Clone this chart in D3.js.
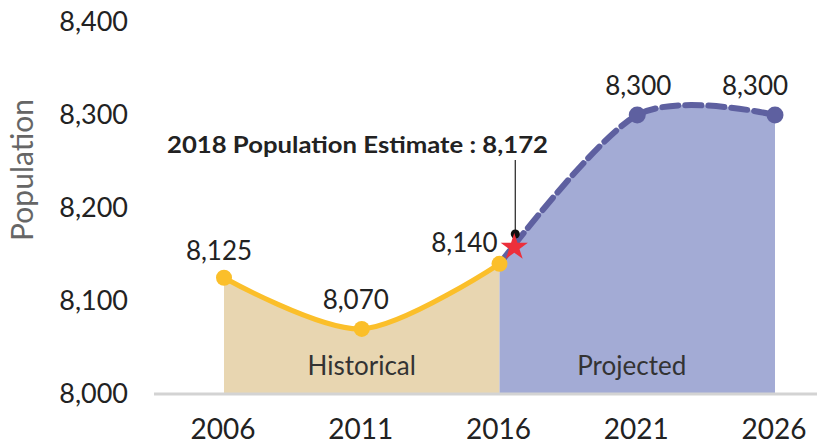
<!DOCTYPE html>
<html>
<head>
<meta charset="utf-8">
<script src="https://cdn.jsdelivr.net/npm/d3@7"></script>
<style>
  body { margin: 0; background: #fff; }
  svg { display: block; }
  text { font-family: Lato, "Noto Sans", sans-serif; }
</style>
</head>
<body>
<div id="chart"></div>
<script>
// Data
const years = [2006, 2011, 2016, 2021, 2026];
const historicalYears = [2006, 2011, 2016];
const historicalValues = [8125, 8070, 8140];
const projectedYears = [2016, 2021, 2026];
const projectedValues = [8140, 8300, 8300];
const projectedDots = [2021, 2026];
const yTicks = [8000, 8100, 8200, 8300, 8400];
const estimateLabel = '2018 Population Estimate : 8,172';
const estimateValue = 8172;
const starYear = 2016.5;   // where the star sits on the x axis
const starValue = 8160;

const width = 817, height = 444;

const svg = d3.select('#chart').append('svg')
    .attr('width', width)
    .attr('height', height);

const x = d3.scaleLinear().domain([2006, 2026]).range([224, 775]);
const y = d3.scaleLinear().domain([8000, 8400]).range([394, 22]);

const histData = historicalYears.map((yr, i) => ({ yr, v: historicalValues[i] }));
const projData = projectedYears.map((yr, i) => ({ yr, v: projectedValues[i] }));

const curve = d3.curveCardinal.tension(0.1);

const area = d3.area()
    .x(d => x(d.yr))
    .y0(y(8000))
    .y1(d => y(d.v))
    .curve(curve);

const line = d3.line()
    .x(d => x(d.yr))
    .y(d => y(d.v))
    .curve(curve);

// Filled areas
svg.append('path').datum(histData).attr('d', area).attr('fill', '#e8d6b1');
svg.append('path').datum(projData).attr('d', area).attr('fill', '#a3abd5');

// Baseline
svg.append('line')
    .attr('x1', 154).attr('x2', width)
    .attr('y1', y(8000)).attr('y2', y(8000))
    .attr('stroke', '#d3d3d3').attr('stroke-width', 3);

// Y axis labels
svg.append('g').selectAll('text')
    .data(yTicks).enter().append('text')
    .attr('x', 128)
    .attr('y', d => y(d))
    .attr('dy', '0.35em')
    .attr('text-anchor', 'end')
    .style('font-size', '27px')
    .attr('fill', '#222')
    .text(d3.format(','));

svg.append('text')
    .attr('transform', `translate(33,${170}) rotate(-90)`)
    .attr('text-anchor', 'middle')
    .style('font-size', '30px')
    .attr('fill', '#666')
    .text('Population');

// X axis labels
svg.append('g').selectAll('text')
    .data(years).enter().append('text')
    .attr('x', d => x(d) - 1)
    .attr('y', 439)
    .attr('text-anchor', 'middle')
    .style('font-size', '28px')
    .attr('fill', '#222')
    .text(d => d);

// Region labels
svg.append('text').attr('x', x(2011)).attr('y', 375)
    .attr('text-anchor', 'middle').style('font-size', '26px').attr('fill', '#333')
    .text('Historical');
svg.append('text').attr('x', x(2020.8)).attr('y', 375)
    .attr('text-anchor', 'middle').style('font-size', '26px').attr('fill', '#333')
    .text('Projected');

// Projected dashed line
svg.append('path').datum(projData)
    .attr('d', line)
    .attr('fill', 'none')
    .attr('stroke', '#5e60a0')
    .attr('stroke-width', 6)
    .attr('stroke-dasharray', '16 7')
    .attr('stroke-linecap', 'round');

svg.append('g').selectAll('circle')
    .data(projData.filter(d => projectedDots.includes(d.yr))).enter().append('circle')
    .attr('cx', d => x(d.yr)).attr('cy', d => y(d.v)).attr('r', 8.5)
    .attr('fill', '#5e60a0');

// Historical line
svg.append('path').datum(histData)
    .attr('d', line)
    .attr('fill', 'none')
    .attr('stroke', '#fbbf2a')
    .attr('stroke-width', 5);

svg.append('g').selectAll('circle')
    .data(histData).enter().append('circle')
    .attr('cx', d => x(d.yr)).attr('cy', d => y(d.v)).attr('r', 8)
    .attr('fill', '#fbbf2a');

// Value labels
const fmt = d3.format(',');
const valueLabels = [
    { yr: 2006, v: 8125, dx: -5, dy: -18, anchor: 'middle' },
    { yr: 2011, v: 8070, dx: -6, dy: -20, anchor: 'middle' },
    { yr: 2016, v: 8140, dx: -2, dy: -12, anchor: 'end' },
    { yr: 2021, v: 8300, dx: 1, dy: -20, anchor: 'middle' },
    { yr: 2026, v: 8300, dx: -20, dy: -20, anchor: 'middle' }
];
svg.append('g').selectAll('text')
    .data(valueLabels).enter().append('text')
    .attr('x', d => x(d.yr) + d.dx)
    .attr('y', d => y(d.v) + d.dy)
    .attr('text-anchor', d => d.anchor)
    .style('font-size', '26px')
    .attr('fill', '#222')
    .text(d => fmt(d.v));

// Estimate annotation
svg.append('line')
    .attr('x1', x(starYear) + 2).attr('x2', x(starYear) + 2)
    .attr('y1', 160).attr('y2', y(estimateValue))
    .attr('stroke', '#222').attr('stroke-width', 1.2);
svg.append('circle')
    .attr('cx', x(starYear) + 2).attr('cy', y(estimateValue)).attr('r', 4.5)
    .attr('fill', '#111');
svg.append('path')
    .attr('d', d3.symbol().type(d3.symbolStar).size(230)())
    .attr('transform', `translate(${x(starYear) + 1},${y(starValue) + 2})`)
    .attr('fill', '#ec2f3b');

svg.append('text')
    .attr('x', 167).attr('y', 153)
    .attr('textLength', 381)
    .attr('lengthAdjust', 'spacingAndGlyphs')
    .style('font-size', '23px')
    .style('font-weight', 'bold')
    .attr('fill', '#222')
    .text(estimateLabel);
</script>
</body>
</html>
